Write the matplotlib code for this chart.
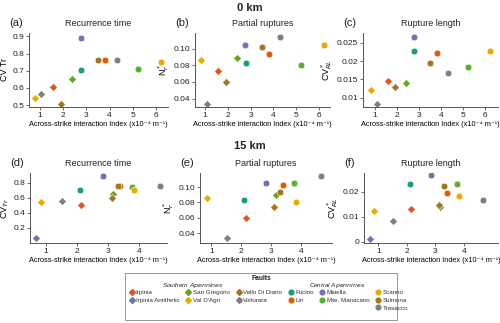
import numpy as np
import matplotlib
matplotlib.use('Agg')
import matplotlib.pyplot as plt
from matplotlib.lines import Line2D
from matplotlib.patches import Rectangle

plt.rcParams['font.family'] = ['Liberation Sans', 'DejaVu Sans']
plt.rcParams['text.color'] = '#222222'

# faults: first six Southern Apennines (diamonds), last seven Central Apennines (circles)
faults = ['Irpinia', 'Irpinia Antithetic', 'San Gregorio', "Val D'Agri", 'Vallo Di Diano', 'Volturara',
          'Fucino', 'Liri', 'Maiella', 'Mte. Marsicano', 'Scanno', 'Sulmona', 'Trasacco']
southern = [True] * 6 + [False] * 7
colors = ['#e0551b', '#7570b3', '#66a61e', '#e6ab02', '#a6761d', '#7f7f7f',
          '#1b9e77', '#d95f02', '#7570b3', '#5aae2e', '#e6ab02', '#a6761d', '#7f7f7f']

nan = np.nan
# 0 km
x0 = [1.57, nan, 2.40, 0.82, 1.92, 1.07, 2.78, 3.80, 2.77, 5.22, 6.22, 3.52, 4.30]
cvtr0 = [0.605, nan, 0.655, 0.540, 0.507, 0.565, 0.706, 0.760, 0.893, 0.710, 0.750, 0.760, 0.762]
nr0 = [0.073, nan, 0.089, 0.086, 0.060, 0.034, 0.083, 0.094, 0.105, 0.081, 0.105, 0.102, 0.114]
cvrl0 = [0.0145, nan, 0.0140, 0.0122, 0.0129, 0.0083, 0.0228, 0.0222, 0.0265, 0.0184, 0.0228, 0.0195, 0.0168]
# 15 km
x15 = [2.15, 0.70, 3.18, 0.85, 3.12, 1.52, 2.10, 3.40, 2.85, 3.77, 3.84, 3.32, 4.68]
cvtr15 = [0.505, 0.06, 0.655, 0.540, 0.600, 0.565, 0.706, 0.760, 0.893, 0.750, 0.710, 0.760, 0.762]
nr15 = [0.060, nan, 0.089, 0.086, 0.074, 0.034, 0.083, 0.102, 0.105, 0.105, 0.081, 0.094, 0.114]
cvrl15 = [0.0129, 0.0010, 0.0140, 0.0122, 0.0146, 0.0083, 0.0229, 0.0195, 0.0265, 0.0229, 0.0184, 0.0222, 0.0168]

xlabel = 'Across-strike interaction Index (x10⁻⁴ m⁻¹)'

fig = plt.figure(figsize=(5, 3.23), dpi=100)

panels = [
    # letter, title, ylabel, x, y, rect, xlim, ylim, yticks, ylabels
    ('(a)', 'Recurrence time', 'CV Tr', x0, cvtr0, [0.058, 0.669, 0.278, 0.229], (0.55, 6.5), (0.49, 0.92),
     [0.5, 0.6, 0.7, 0.8, 0.9], ['0.5', '0.6', '0.7', '0.8', '0.9']),
    ('(b)', 'Partial ruptures', r'N$_r^*$', x0, nr0, [0.390, 0.669, 0.270, 0.229], (0.55, 6.5), (0.030, 0.119),
     [0.04, 0.06, 0.08, 0.10], ['0.04', '0.06', '0.08', '0.10']),
    ('(c)', 'Rupture length', r'CV$_{RL}^*$', x0, cvrl0, [0.726, 0.669, 0.270, 0.229], (0.45, 6.6), (0.0075, 0.0277),
     [0.01, 0.015, 0.02, 0.025], ['0.01', '0.015', '0.02', '0.025']),
    ('(d)', 'Recurrence time', r'CV$_{Tr}$', x15, cvtr15, [0.060, 0.248, 0.274, 0.216], (0.5, 4.9), (0.0, 0.93),
     [0.2, 0.4, 0.6, 0.8], ['0.2', '0.4', '0.6', '0.8']),
    ('(e)', 'Partial ruptures', r'N$_r^*$', x15, nr15, [0.400, 0.248, 0.264, 0.216], (0.62, 5.05), (0.0275, 0.118),
     [0.04, 0.06, 0.08, 0.10], ['0.04', '0.06', '0.08', '0.10']),
    ('(f)', 'Rupture length', r'CV$_{RL}^*$', x15, cvrl15, [0.728, 0.248, 0.268, 0.216], (0.5, 5.2), (-0.0005, 0.0274),
     [0.0, 0.01, 0.02], ['0', '0.01', '0.02']),
]

for letter, title, ylab, xs, ys, rect, xlim, ylim, yt, ytl in panels:
    ax = fig.add_axes(rect)
    for i in range(len(faults)):
        if np.isnan(xs[i]) or np.isnan(ys[i]):
            continue
        ax.plot(xs[i], ys[i], marker='D' if southern[i] else 'o', ms=4.4 if southern[i] else 4.8,
                color=colors[i], mec='white', mew=0.4, ls='none')
    ax.set_xlim(*xlim)
    ax.set_ylim(*ylim)
    ax.set_yticks(yt)
    ax.set_yticklabels(ytl)
    top = xlim[1] > 6
    ax.set_xticks([1, 2, 3, 4, 5, 6] if top else [1, 2, 3, 4])
    for s in ['top', 'right']:
        ax.spines[s].set_visible(False)
    for s in ['left', 'bottom']:
        ax.spines[s].set_color('#555555')
        ax.spines[s].set_linewidth(0.7)
    ax.tick_params(labelsize=6, length=2, width=0.6, color='#555555', labelcolor='#222222', pad=1.5)
    ax.set_title(title, fontsize=6.5, pad=5)
    ax.set_ylabel(ylab, fontsize=6.5, labelpad=2)
    ax.set_xlabel(xlabel, fontsize=5.3, labelpad=1.5)
    fig.text(rect[0] - 0.04, rect[1] + rect[3] + 0.03, letter, fontsize=8, va='center', ha='left')

fig.text(0.5, 1 - 8 / 323, '0 km', fontsize=8, fontweight='bold', ha='center', va='center')
fig.text(0.5, 1 - 146 / 323, '15 km', fontsize=8, fontweight='bold', ha='center', va='center')

# legend box
fig.patches.append(Rectangle((125 / 500, 1 - 320 / 323), 272 / 500, 47 / 323, transform=fig.transFigure,
                             fill=False, ec='#888888', lw=0.6))
fig.text(261 / 500, 1 - 278 / 323, 'Faults', fontsize=4.8, fontweight='bold', ha='center', va='center')
fig.text(193 / 500, 1 - 285 / 323, 'Southern $\\it{Apennines}$', fontsize=4.5, style='italic', ha='center', va='center')
fig.text(337 / 500, 1 - 285 / 323, 'Central $\\it{Apennines}$', fontsize=4.5, style='italic', ha='center', va='center')

order = [[0, 1], [2, 3], [4, 5], [6, 7], [8, 9], [10, 11, 12]]
handles, labels = [], []
for col in order:
    for k in range(3):
        if k < len(col):
            i = col[k]
            handles.append(Line2D([], [], marker='D' if southern[i] else 'o', ms=3 if southern[i] else 3.4,
                                  color=colors[i], ls='none'))
            labels.append(faults[i])
        else:
            handles.append(Line2D([], [], ls='none'))
            labels.append('')
leg = fig.legend(handles, labels, ncol=6, loc='upper left', bbox_to_anchor=(129 / 500, 1 - 290 / 323),
                 frameon=False, fontsize=4.5, handlelength=0.8, handletextpad=0.3, columnspacing=1.0,
                 labelspacing=0.35, borderaxespad=0, borderpad=0)
for t in leg.get_texts():
    t.set_color('#333333')

fig.savefig('out.png', dpi=100)
